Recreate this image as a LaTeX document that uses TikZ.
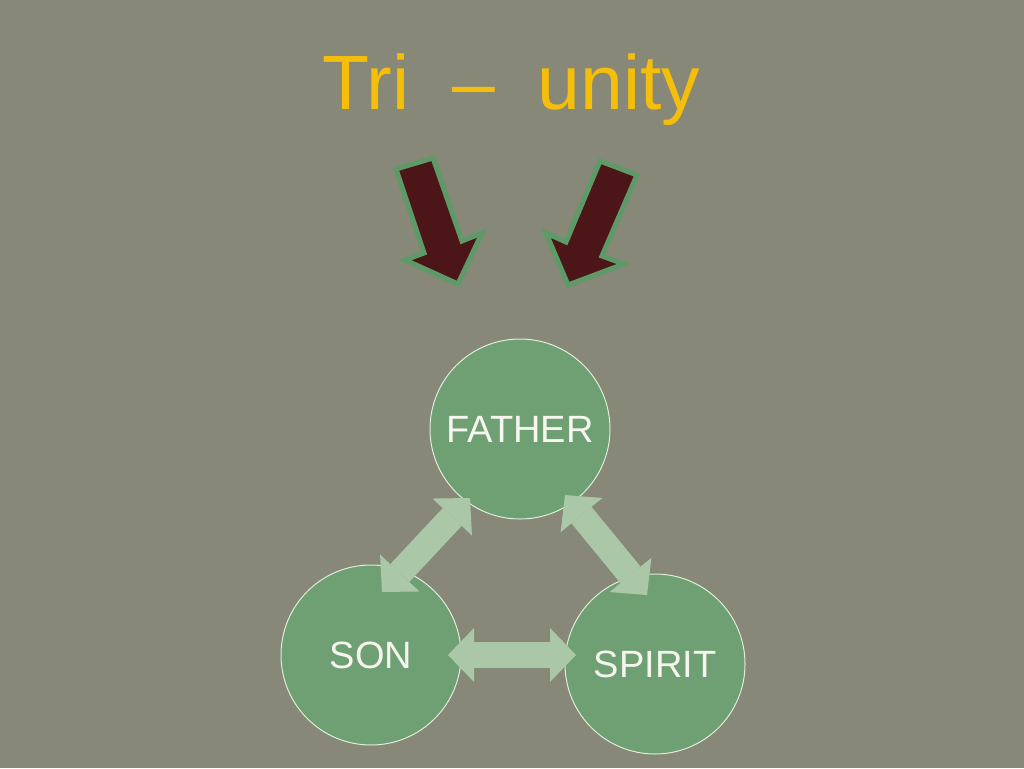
\documentclass[tikz,border=0pt]{standalone}
\usepackage{fontspec}
\setmainfont{Liberation Sans}
\usetikzlibrary{arrows.meta}
\definecolor{bgcol}{RGB}{135,136,120}
\definecolor{titlecol}{RGB}{245,190,10}
\definecolor{maroon}{RGB}{76,22,24}
\definecolor{arrowedge}{RGB}{94,154,104}
\definecolor{circfill}{RGB}{110,160,115}
\definecolor{circedge}{RGB}{222,236,216}
\definecolor{linkcol}{RGB}{170,200,168}
\definecolor{labelcol}{RGB}{246,246,238}
\tikzset{
  person/.style={circle, fill=circfill, draw=circedge, line width=1pt, inner sep=0pt,
    minimum size=180pt, text=labelcol, font=\fontsize{38}{40}\selectfont},
  pointer/.style={fill=maroon, draw=arrowedge, line width=5pt, line join=miter},
  link/.style={draw=linkcol, line width=26pt, {Triangle[length=26pt,width=54pt,line width=0pt]}-{Triangle[length=26pt,width=54pt,line width=0pt]}},
  titletext/.style={anchor=base, font=\fontsize{77}{80}\selectfont, inner sep=0pt}
}
\begin{document}
\begin{tikzpicture}[x=1pt,y=-1pt]
\fill[bgcol] (0,0) rectangle (1024,768);
\useasboundingbox (0,0) rectangle (1024,768);
% title
\node[titletext, text=titlecol] (title) at (511.5,109) {Tri\ \ –\ \ unity};
% brown arrows
\draw[pointer] (396,169) -- (433,158) -- (462,241) -- (482,233) -- (458,284) -- (405,260) -- (424,253) -- cycle;
\draw[pointer] (600,161) -- (637,175) -- (602,256) -- (624,264) -- (568,285) -- (546,233) -- (566,242) -- cycle;
% circles
\node[person] (father) at (520,429) {FATHER};
\node[person] (son) at (371,655) {SON};
\node[person] (spirit) at (655,664) {SPIRIT};
% link ends
\coordinate (sf1) at (382,592);
\coordinate (sf2) at (470,498);
\coordinate (fp1) at (565,495);
\coordinate (fp2) at (647,595);
\coordinate (sp1) at (448,655);
\coordinate (sp2) at (576,655);
\draw[link] (sf1) -- (sf2);
\draw[link] (fp1) -- (fp2);
\draw[link] (sp1) -- (sp2);
\end{tikzpicture}
\end{document}
